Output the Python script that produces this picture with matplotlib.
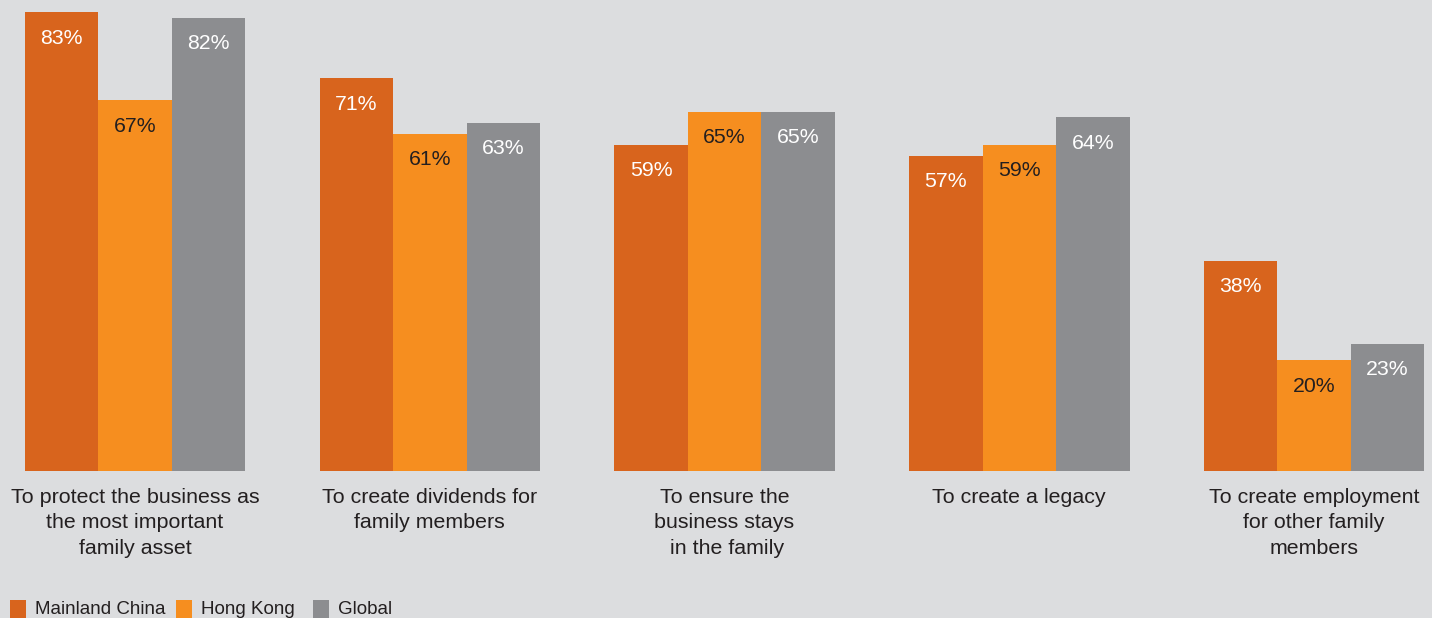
import matplotlib
matplotlib.use("Agg")
import matplotlib.pyplot as plt
from matplotlib.patches import Rectangle

categories = [
    "To protect the business as\nthe most important\nfamily asset",
    "To create dividends for\nfamily members",
    "To ensure the\nbusiness stays\n in the family",
    "To create a legacy",
    "To create employment\nfor other family\nmembers",
]
series_names = ["Mainland China", "Hong Kong", "Global"]
mainland = [83, 71, 59, 57, 38]
hongkong = [67, 61, 65, 59, 20]
global_ = [82, 63, 65, 64, 23]

colors = ["#D8641D", "#F68E1F", "#8C8D90"]
label_colors = ["white", "#231F20", "white"]
bg = "#DCDDDF"
text_col = "#231F20"

plt.rcParams['font.family'] = ['Liberation Sans', 'DejaVu Sans']

W, H = 1432, 618
fig = plt.figure(figsize=(W / 100, H / 100), dpi=100, facecolor=bg)
ax = fig.add_axes([0, 1 - 471 / H, 1, 471 / H])
ax.set_facecolor(bg)
for s in ax.spines.values():
    s.set_visible(False)
ax.set_xticks([])
ax.set_yticks([])

spacing = 294.75
x0 = 135
ax.set_xlim(-x0 / spacing, (W - x0) / spacing)
px_per_unit = 459 / 83.0
ax.set_ylim(0, 471 / px_per_unit)

bw = 73.5 / spacing
data = [mainland, hongkong, global_]
for si, vals in enumerate(data):
    xs = [i + (si - 1) * bw for i in range(len(categories))]
    ax.bar(xs, vals, width=bw, color=colors[si], linewidth=0)
    for x, v in zip(xs, vals):
        ax.text(x, v - 26 / px_per_unit, f"{v}%", ha="center", va="center",
                fontsize=15.3, color=label_colors[si])

for i, c in enumerate(categories):
    ax.text(i, -17 / px_per_unit, c, ha="center", va="top", fontsize=15.4,
            color=text_col, linespacing=1.42, clip_on=False)

# legend
leg_x = [10, 176, 313]
for name, col, lx in zip(series_names, colors, leg_x):
    fig.patches.append(Rectangle((lx / W, 1 - 618 / H), 16 / W, 18 / H,
                                 transform=fig.transFigure, facecolor=col,
                                 edgecolor="none"))
    fig.text((lx + 25) / W, 1 - 610 / H, name, ha="left", va="center",
             fontsize=13.5, color=text_col)

fig.savefig("out.png", dpi=100, facecolor=bg)
